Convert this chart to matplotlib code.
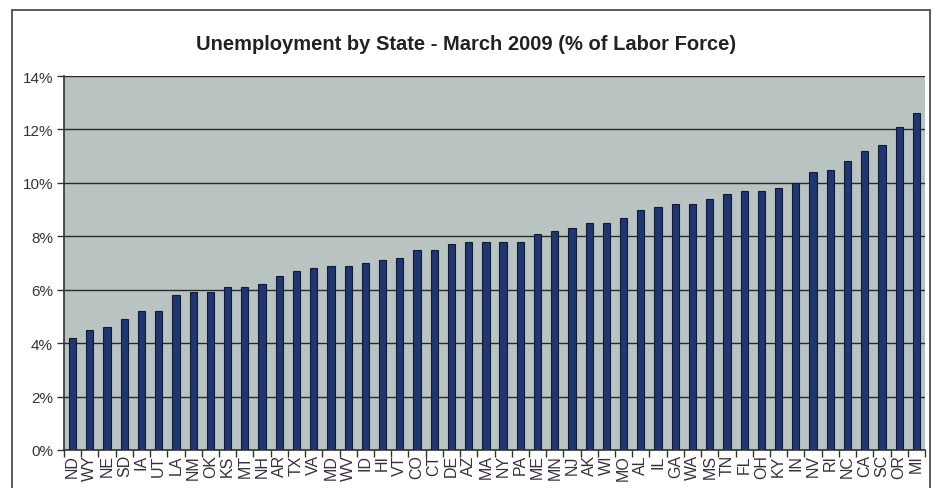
import matplotlib
matplotlib.use("Agg")
import matplotlib.pyplot as plt
from matplotlib.patches import Rectangle
from matplotlib.ticker import FuncFormatter, MultipleLocator, FixedLocator
import numpy as np

states = ["ND", "WY", "NE", "SD", "IA", "UT", "LA", "NM", "OK", "KS",
          "MT", "NH", "AR", "TX", "VA", "MD", "WV", "ID", "HI", "VT",
          "CO", "CT", "DE", "AZ", "MA", "NY", "PA", "ME", "MN", "NJ",
          "AK", "WI", "MO", "AL", "IL", "GA", "WA", "MS", "TN", "FL",
          "OH", "KY", "IN", "NV", "RI", "NC", "CA", "SC", "OR", "MI"]
unemployment = [4.2, 4.5, 4.6, 4.9, 5.2, 5.2, 5.8, 5.9, 5.9, 6.1,
                6.1, 6.2, 6.5, 6.7, 6.8, 6.9, 6.9, 7.0, 7.1, 7.2,
                7.5, 7.5, 7.7, 7.8, 7.8, 7.8, 7.8, 8.1, 8.2, 8.3,
                8.5, 8.5, 8.7, 9.0, 9.1, 9.2, 9.2, 9.4, 9.6, 9.7,
                9.7, 9.8, 10.0, 10.4, 10.5, 10.8, 11.2, 11.4, 12.1, 12.6]
title = "Unemployment by State - March 2009 (% of Labor Force)"

plt.rcParams["font.family"] = ["Liberation Sans", "DejaVu Sans"]

fig = plt.figure(figsize=(9.33, 4.89), dpi=100)
fig.patch.set_facecolor("white")

# outer chart frame
frame = Rectangle((11.5 / 933, -0.05), (929.5 - 11.5) / 933, 1.05 - 11 / 489,
                  transform=fig.transFigure, fill=False,
                  edgecolor="#5a5a5a", linewidth=1.4)
fig.patches.append(frame)

ax = fig.add_axes([64 / 933, 1 - 451 / 489, (925 - 64) / 933, (451 - 77) / 489])
ax.set_facecolor("#b9c4c2")

x = np.arange(len(states))
ax.bar(x, unemployment, width=0.42, color="#1f3671",
       edgecolor="#111a30", linewidth=0.8, zorder=3)

ax.set_xlim(-0.5, len(states) - 0.5)
ax.set_ylim(0, 14)
ax.yaxis.set_major_locator(MultipleLocator(2))
ax.yaxis.set_major_formatter(FuncFormatter(lambda v, p: f"{v:.0f}%"))
ax.grid(axis="y", color="#2a2a2a", linewidth=1.0, zorder=1)

label_color = "#3b2f3f"
ax.set_xticks(x)
ax.set_xticklabels(states, rotation=90, fontsize=11.5, color=label_color)
ax.tick_params(axis="x", which="major", length=0, pad=3)
ax.xaxis.set_minor_locator(FixedLocator(np.arange(-0.5, len(states), 1.0)))
ax.tick_params(axis="x", which="minor", length=5, width=1, color="#333333")
ax.tick_params(axis="y", length=5, width=1, color="#333333",
               labelsize=11, labelcolor=label_color, pad=3)

for side in ["top", "right"]:
    ax.spines[side].set_visible(False)
ax.spines["left"].set_color("#333333")
ax.spines["bottom"].set_color("#333333")
ax.spines["left"].set_linewidth(1.2)
ax.spines["bottom"].set_linewidth(1.2)

fig.text(0.5, 1 - 44 / 489, title, ha="center", va="center",
         fontsize=14.5, fontweight="bold", color="#222222")

fig.savefig("out.png", dpi=100, facecolor="white")
